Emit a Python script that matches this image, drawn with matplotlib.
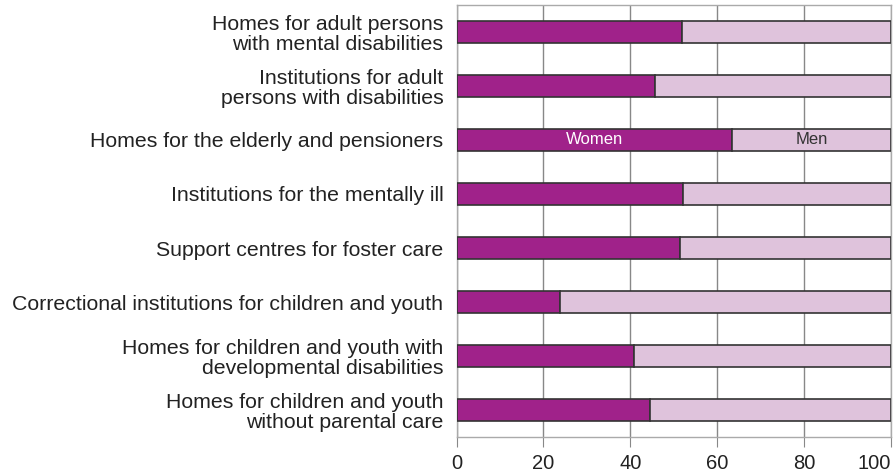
import numpy as np
import matplotlib.pyplot as plt

plt.rcParams['font.family'] = ['Liberation Sans', 'DejaVu Sans']

# Share of women (%) per institution type, top to bottom
categories = [
    'Homes for adult persons\nwith mental disabilities',
    'Institutions for adult\npersons with disabilities',
    'Homes for the elderly and pensioners',
    'Institutions for the mentally ill',
    'Support centres for foster care',
    'Correctional institutions for children and youth',
    'Homes for children and youth with\ndevelopmental disabilities',
    'Homes for children and youth\nwithout parental care',
]
women = [51.8, 45.8, 63.5, 52.2, 51.5, 23.7, 40.9, 44.6]
men = [100 - w for w in women]
xticks = [0, 20, 40, 60, 80, 100]

women_color = '#A0228A'
men_color = '#DFC3DC'

fig = plt.figure(figsize=(8.96, 4.74), dpi=100)
ax = fig.add_axes([0.5097, 0.078, 0.4844, 0.9115])

y = np.arange(len(categories))
ax.barh(y, women, height=0.4, color=women_color, edgecolor='#333333', linewidth=1.2, zorder=3)
ax.barh(y, men, left=women, height=0.4, color=men_color, edgecolor='#333333', linewidth=1.2, zorder=3)

# labels inside the elderly bar
i = 2
ax.text(women[i] / 2, y[i], 'Women', color='white', ha='center', va='center', fontsize=12, zorder=4)
ax.text(women[i] + men[i] / 2, y[i], 'Men', color='#333333', ha='center', va='center', fontsize=12, zorder=4)

ax.set_xlim(0, 100)
ax.set_ylim(len(categories) - 0.5, -0.5)
ax.set_xticks(xticks)
ax.set_yticks(y)
ax.set_yticklabels(categories, fontsize=15.3, color='#222222', linespacing=1.05)
for lab in ax.get_yticklabels():
    lab.set_multialignment('right')
ax.tick_params(axis='y', length=0, pad=9.5)
ax.tick_params(axis='x', length=7, color='#888888', labelsize=14.5, labelcolor='#222222', pad=5)
ax.get_xticklabels()[-1].set_horizontalalignment('right')

ax.grid(axis='x', color='#888888', linewidth=1.0, zorder=0)
for s in ax.spines.values():
    s.set_color('#aaaaaa')
    s.set_linewidth(1.0)

fig.savefig('out.png', dpi=100)
